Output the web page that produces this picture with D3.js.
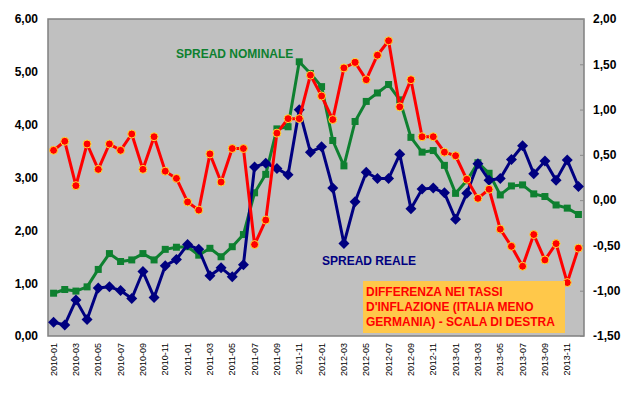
<!DOCTYPE html>
<html>
<head>
<meta charset="utf-8" />
<script src="https://d3js.org/d3.v7.min.js"></script>
<style>
body { margin: 0; background: #fff; }
text { font-family: "Liberation Sans", Arial, sans-serif; }
.tick-label { font-size: 12px; font-weight: bold; fill: #000; }
.x-label { font-size: 9px; fill: #000; }
</style>
</head>
<body>
<script>
// monthly categories 2010-01 .. 2013-12
var months = [];
[2010, 2011, 2012, 2013].forEach(function(y) {
  for (var m = 1; m <= 12; m++) months.push(y + "-" + (m < 10 ? "0" + m : m));
});

// spread nominale (left axis)
var nominale = [0.81, 0.88, 0.85, 0.93, 1.26, 1.56, 1.41, 1.44, 1.56, 1.44, 1.64, 1.68,
  1.69, 1.53, 1.66, 1.50, 1.69, 1.92, 2.71, 3.06, 3.92, 3.96, 5.19, 4.97,
  4.72, 3.70, 3.22, 4.06, 4.44, 4.60, 4.76, 4.47, 3.76, 3.48, 3.51, 3.23,
  2.70, 2.94, 3.28, 3.08, 2.67, 2.84, 2.86, 2.69, 2.64, 2.48, 2.42, 2.30];

// spread reale (left axis)
var reale = [0.26, 0.21, 0.68, 0.31, 0.91, 0.93, 0.86, 0.71, 1.22, 0.73, 1.33, 1.45,
  1.73, 1.64, 1.14, 1.29, 1.12, 1.35, 3.20, 3.27, 3.17, 3.05, 4.28, 3.48,
  3.58, 2.80, 1.75, 2.54, 3.10, 2.98, 2.98, 3.44, 2.41, 2.78, 2.80, 2.71,
  2.21, 2.70, 3.26, 2.95, 2.98, 3.34, 3.60, 3.07, 3.31, 2.95, 3.33, 2.83];

// differenza inflazione Italia - Germania (right axis)
var inflazione = [0.55, 0.65, 0.16, 0.62, 0.34, 0.62, 0.55, 0.73, 0.34, 0.70, 0.32, 0.24,
  -0.02, -0.11, 0.51, 0.20, 0.57, 0.57, -0.49, -0.22, 0.74, 0.90, 0.90, 1.38,
  1.15, 0.89, 1.46, 1.52, 1.33, 1.60, 1.76, 1.03, 1.33, 0.70, 0.70, 0.53,
  0.49, 0.23, 0.02, 0.12, -0.32, -0.51, -0.73, -0.38, -0.66, -0.48, -0.91, -0.53];

var leftTicks = [0, 1, 2, 3, 4, 5, 6];
var rightTicks = [-1.5, -1, -0.5, 0, 0.5, 1, 1.5, 2];
var noteLines = ["DIFFERENZA NEI TASSI", "D'INFLAZIONE (ITALIA MENO", "GERMANIA) - SCALA DI DESTRA"];

var width = 625, height = 394;
var plot = {left: 48, right: 584, top: 19, bottom: 336};

var svg = d3.select("body").append("svg")
    .attr("width", width)
    .attr("height", height);

var x = d3.scaleBand().domain(months).range([plot.left, plot.right]);
var yL = d3.scaleLinear().domain([0, 6]).range([plot.bottom, plot.top]);
var yR = d3.scaleLinear().domain([-1.5, 2]).range([plot.bottom, plot.top]);
var cx = function(i) { return x(months[i]) + x.bandwidth() / 2; };

// plot area
svg.append("rect")
    .attr("x", plot.left).attr("y", plot.top)
    .attr("width", plot.right - plot.left).attr("height", plot.bottom - plot.top)
    .style("fill", "#c0c0c0")
    .style("stroke", "#808080")
    .style("stroke-width", 1.5);

// left axis
var axL = svg.append("g")
    .attr("transform", "translate(" + plot.left + ",0)")
    .call(d3.axisLeft(yL).tickValues(leftTicks).tickSize(0).tickPadding(10)
      .tickFormat(function(d) { return d3.format(".2f")(d).replace(".", ","); }));
axL.select(".domain").remove();
axL.selectAll("text").attr("class", "tick-label");

// right axis
var axR = svg.append("g")
    .attr("transform", "translate(" + plot.right + ",0)")
    .call(d3.axisRight(yR).tickValues(rightTicks).tickSize(-4).tickPadding(9)
      .tickFormat(function(d) { return d3.format(".2f")(d).replace(".", ",").replace("−", "-"); }));
axR.select(".domain").remove();
axR.selectAll("line").style("stroke", "#8c8c8c");
axR.selectAll("text").attr("class", "tick-label");

// x labels every two months
var axX = svg.append("g")
    .attr("transform", "translate(0," + plot.bottom + ")")
    .call(d3.axisBottom(x).tickValues(months.filter(function(d, i) { return i % 2 == 0; }))
      .tickSize(0).tickPadding(0));
axX.select(".domain").remove();
axX.selectAll("text")
    .attr("class", "x-label")
    .attr("transform", "rotate(-90)")
    .attr("x", -7).attr("y", 0).attr("dy", "0.33em")
    .style("text-anchor", "end");

function drawSeries(values, scale, color, lw) {
  var line = d3.line()
      .x(function(d, i) { return cx(i); })
      .y(function(d) { return scale(d); });
  svg.append("path")
      .datum(values)
      .attr("d", line)
      .style("fill", "none")
      .style("stroke", color)
      .style("stroke-width", lw)
      .style("stroke-linejoin", "round");
  return svg.append("g").selectAll("path").data(values).enter();
}

// green squares
drawSeries(nominale, yL, "#0e8030", 3)
  .append("rect")
    .attr("x", function(d, i) { return cx(i) - 3.5; })
    .attr("y", function(d) { return yL(d) - 3.5; })
    .attr("width", 7).attr("height", 7)
    .style("fill", "#0e8030");

// blue diamonds
drawSeries(reale, yL, "#000080", 3)
  .append("path")
    .attr("transform", function(d, i) { return "translate(" + cx(i) + "," + yL(d) + ")"; })
    .attr("d", "M0,-5.5L5.5,0L0,5.5L-5.5,0Z")
    .style("fill", "#000080");

// red circles with yellow outline
drawSeries(inflazione, yR, "#ff0000", 3)
  .append("circle")
    .attr("cx", function(d, i) { return cx(i); })
    .attr("cy", function(d) { return yR(d); })
    .attr("r", 4)
    .style("fill", "#ff0000")
    .style("stroke", "#ffdd33")
    .style("stroke-width", 1);

// labels
svg.append("text")
    .attr("x", 176).attr("y", 58)
    .style("font-size", "12px").style("font-weight", "bold")
    .style("fill", "#0e8030")
    .text("SPREAD NOMINALE");

svg.append("text")
    .attr("x", 322).attr("y", 265)
    .style("font-size", "12px").style("font-weight", "bold")
    .style("fill", "#000080")
    .text("SPREAD REALE");

svg.append("rect")
    .attr("x", 363).attr("y", 281)
    .attr("width", 202).attr("height", 52)
    .style("fill", "#ffc84a");

svg.append("g").selectAll("text").data(noteLines).enter()
  .append("text")
    .attr("x", 366)
    .attr("y", function(d, i) { return 296 + i * 15; })
    .style("font-size", "12px").style("font-weight", "bold")
    .style("fill", "#ff0000")
    .text(function(d) { return d; });
</script>
</body>
</html>
